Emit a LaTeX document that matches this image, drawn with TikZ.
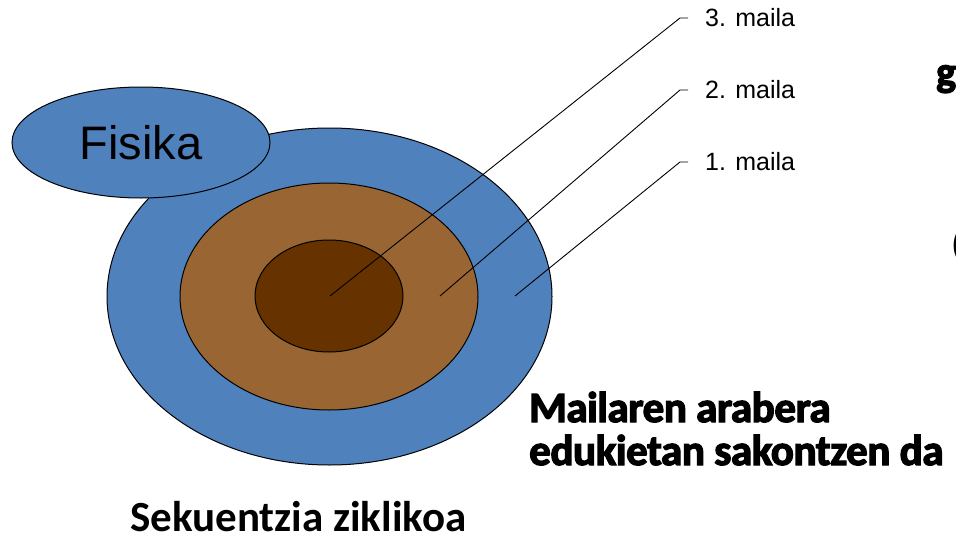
\documentclass[tikz,border=0pt]{standalone}
\usepackage{fontspec}
\setmainfont{Liberation Sans}
\newfontfamily\calib{Carlito}
\newfontfamily\heavy{Carlito}[BoldFeatures={FakeBold=3,LetterSpace=-1}]
\usetikzlibrary{shapes.geometric}
\definecolor{oblue}{HTML}{4F81BD}
\definecolor{mbrown}{HTML}{996633}
\definecolor{dbrown}{HTML}{663300}
\tikzset{
  ring/.style={ellipse, draw=black, line width=1pt, inner sep=0pt},
  leader/.style={draw=black, line width=0.9pt},
  lvl/.style={anchor=west, font=\fontsize{25}{27}\selectfont, inner sep=0pt},
}
\begin{document}
\begin{tikzpicture}[x=1pt,y=-1pt]
\useasboundingbox (0,0) rectangle (956,538);
\node[ring, fill=oblue, minimum width=445pt, minimum height=337pt] (outer) at (329.5,296.5) {};
\node[ring, fill=mbrown, minimum width=298pt, minimum height=227pt] (mid) at (329,296.5) {};
\node[ring, fill=dbrown, minimum width=148pt, minimum height=112pt] (inner) at (329,296) {};
\node[ring, fill=oblue, minimum width=258pt, minimum height=111pt, font=\fontsize{47}{50}\selectfont] (fis) at (141,142.5) {Fisika};
\coordinate (p3) at (330,296);
\coordinate (p2) at (440,296);
\coordinate (p1) at (515,296);
\coordinate (b3) at (680,18);
\coordinate (b2) at (680,90);
\coordinate (b1) at (680,162);
\node[lvl] (l3) at (705,18) {3. maila};
\node[lvl] (l2) at (705,90) {2. maila};
\node[lvl] (l1) at (705,162) {1. maila};
\draw[leader] (p3) -- (b3) -- ++(8,0);
\draw[leader] (p2) -- (b2) -- ++(8,0);
\draw[leader] (p1) -- (b1) -- ++(8,0);
\node[anchor=base west, align=left, inner sep=0pt, font=\heavy\bfseries\fontsize{43}{43}\selectfont] (txt) at (529,465) {Mailaren arabera\\edukietan sakontzen da};
\node[anchor=base west, inner sep=0pt, font=\calib\bfseries\fontsize{43}{44}\selectfont] (seq) at (130,531) {Sekuentzia ziklikoa};
\node[anchor=base west, inner sep=0pt, font=\heavy\bfseries\fontsize{42}{40}\selectfont] (g) at (936,86) {g};
\node[anchor=base west, inner sep=0pt, font=\calib\fontsize{36}{40}\selectfont] (par) at (951,256) {(};
\end{tikzpicture}
\end{document}
